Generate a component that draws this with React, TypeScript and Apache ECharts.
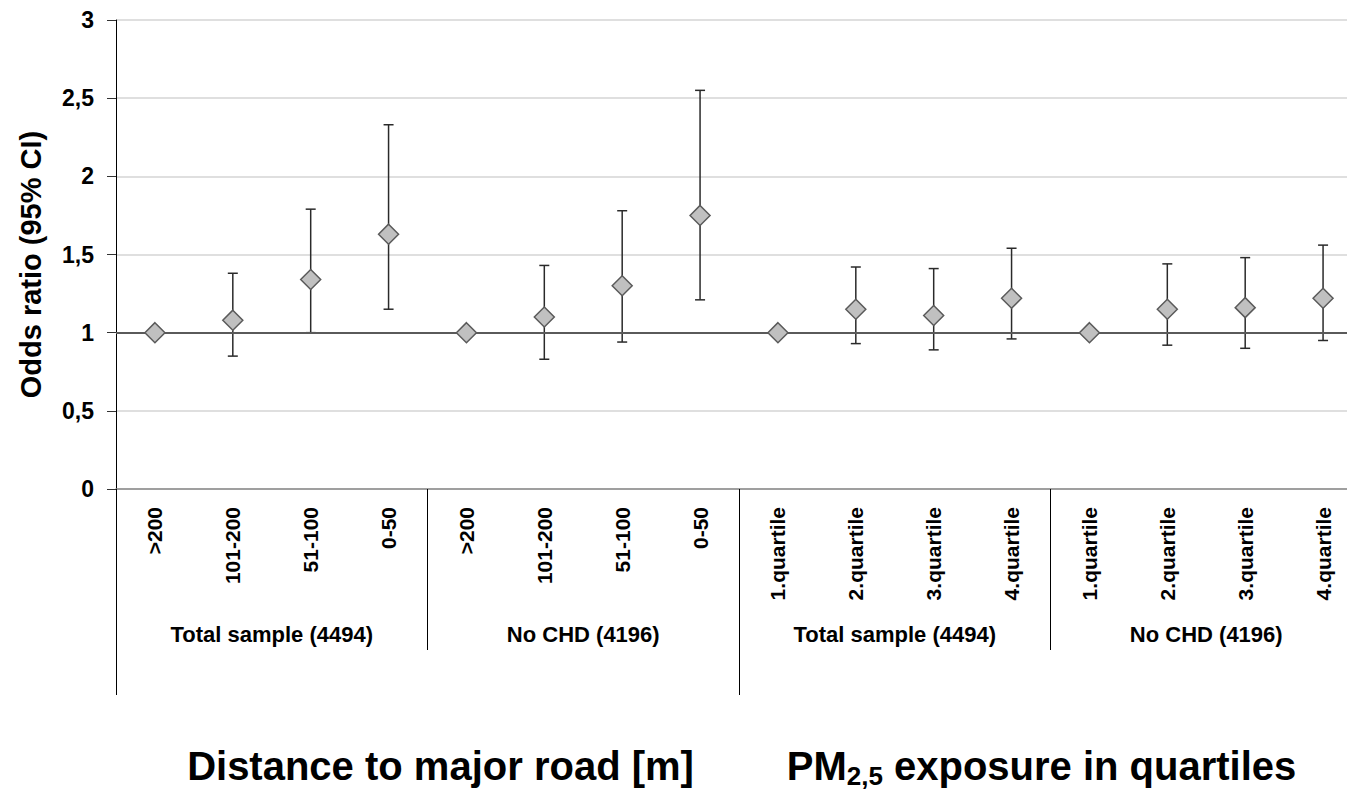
import React, { useEffect, useRef } from "react";
import * as echarts from "echarts";

const categories = [
  ">200", "101-200", "51-100", "0-50",
  ">200", "101-200", "51-100", "0-50",
  "1.quartile", "2.quartile", "3.quartile", "4.quartile",
  "1.quartile", "2.quartile", "3.quartile", "4.quartile",
];
const oddsRatios = [1.0, 1.08, 1.34, 1.63, 1.0, 1.1, 1.3, 1.75, 1.0, 1.15, 1.11, 1.22, 1.0, 1.15, 1.16, 1.22];
const ciLower = [null, 0.85, 1.0, 1.15, null, 0.83, 0.94, 1.21, null, 0.93, 0.89, 0.96, null, 0.92, 0.9, 0.95];
const ciUpper = [null, 1.38, 1.79, 2.33, null, 1.43, 1.78, 2.55, null, 1.42, 1.41, 1.54, null, 1.44, 1.48, 1.56];
const subgroups = ["Total sample (4494)", "No CHD (4196)", "Total sample (4494)", "No CHD (4196)"];
const exposures = ["Distance to major road [m]", "PM2,5 exposure in quartiles"];
const yName = "Odds ratio (95% CI)";

const FONT = "'Liberation Sans', Arial, sans-serif";

export default function App() {
  const ref = useRef<HTMLDivElement>(null);
  useEffect(() => {
    if (!ref.current) return;
    const chart = echarts.init(ref.current, null, { renderer: "svg" });
    const errData = categories
      .map((_, i) => [i, ciLower[i], ciUpper[i]])
      .filter((d) => d[1] != null && d[2] != null);
    const option: any = {
      animation: false,
      backgroundColor: "#ffffff",
      textStyle: { fontFamily: FONT },
      grid: { left: 116, right: 0, top: 20, bottom: 302, containLabel: false },
      xAxis: [
        {
          type: "category",
          data: categories,
          position: "bottom",
          axisLine: { show: true, onZero: false, lineStyle: { color: "#8a8a8a", width: 1.5 } },
          axisTick: { show: false },
          axisLabel: {
            interval: 0,
            rotate: 90,
            margin: 18,
            color: "#000",
            fontSize: 21,
            fontWeight: "bold",
            fontFamily: FONT,
          },
          splitLine: { show: false },
        },
        {
          type: "category",
          data: subgroups,
          position: "bottom",
          axisLine: { show: false, onZero: false },
          axisTick: { show: true, interval: 0, length: 161, lineStyle: { color: "#000", width: 1 } },
          axisLabel: {
            interval: 0,
            margin: 134,
            color: "#000",
            fontSize: 22,
            fontWeight: "bold",
            fontFamily: FONT,
          },
          splitLine: { show: false },
        },
        {
          type: "category",
          data: exposures.map((v, i) => ({
            value: v,
            textStyle: { padding: i === 0 ? [0, 0, 0, 26] : [0, 18, 0, 0] },
          })),
          position: "bottom",
          axisLine: { show: false, onZero: false },
          axisTick: { show: true, interval: 0, length: 206, lineStyle: { color: "#000", width: 1 } },
          axisLabel: {
            interval: 0,
            margin: 254,
            color: "#000",
            formatter: (v: string) =>
              v.startsWith("PM2,5") ? `{b|PM}{s|2,5}{b|${v.slice(5)}}` : `{b|${v}}`,
            rich: {
              b: { fontSize: 40, fontWeight: "bold", fontFamily: FONT, lineHeight: 46, color: "#000" },
              s: {
                fontSize: 26,
                fontWeight: "bold",
                fontFamily: FONT,
                lineHeight: 20,
                verticalAlign: "bottom",
                color: "#000",
              },
            },
          },
          splitLine: { show: false },
        },
      ],
      yAxis: {
        type: "value",
        min: 0,
        max: 3,
        interval: 0.5,
        name: yName,
        nameLocation: "middle",
        nameRotate: 90,
        nameGap: 71,
        nameTextStyle: {
          fontSize: 29,
          fontWeight: "bold",
          fontFamily: FONT,
          color: "#000",
          padding: [0, 20, 0, 0],
        },
        axisLine: { show: true, lineStyle: { color: "#000", width: 1 } },
        axisTick: { show: true, length: 9, lineStyle: { color: "#333", width: 1 } },
        axisLabel: {
          margin: 22,
          color: "#000",
          fontSize: 23,
          fontWeight: "bold",
          fontFamily: FONT,
          formatter: (v: number) => String(v).replace(".", ","),
        },
        splitLine: { show: true, lineStyle: { color: "#d4d4d4", width: 1.5 } },
      },
      series: [
        {
          type: "custom",
          xAxisIndex: 0,
          data: errData,
          encode: { x: 0, y: [1, 2] },
          z: 2,
          renderItem: (params: any, api: any) => {
            const x = api.value(0);
            const lo = api.coord([x, api.value(1)]);
            const hi = api.coord([x, api.value(2)]);
            const w = 5;
            const st = { stroke: "#2a2a2a", lineWidth: 1.5 };
            return {
              type: "group",
              children: [
                { type: "line", shape: { x1: lo[0], y1: lo[1], x2: hi[0], y2: hi[1] }, style: st },
                { type: "line", shape: { x1: lo[0] - w, y1: lo[1], x2: lo[0] + w, y2: lo[1] }, style: st },
                { type: "line", shape: { x1: hi[0] - w, y1: hi[1], x2: hi[0] + w, y2: hi[1] }, style: st },
              ],
            };
          },
          markLine: {
            silent: true,
            symbol: ["none", "none"],
            label: { show: false },
            lineStyle: { color: "#5a5a5a", width: 2, type: "solid" },
            data: [{ yAxis: 1 }],
          },
        },
        {
          type: "scatter",
          xAxisIndex: 0,
          data: oddsRatios.map((v, i) => [i, v]),
          symbol: "diamond",
          symbolSize: [20, 20],
          z: 5,
          itemStyle: { color: "#c0c0c0", borderColor: "#5a5a5a", borderWidth: 1.5, opacity: 1 },
        },
      ],
    };
    chart.setOption(option);
    return () => chart.dispose();
  }, []);
  return (
    <div
      style={{
        position: "absolute",
        left: 0,
        top: 0,
        width: 1347,
        height: 791,
        overflow: "hidden",
        background: "#fff",
      }}
    >
      <div ref={ref} style={{ width: 1362, height: 791 }} />
    </div>
  );
}
